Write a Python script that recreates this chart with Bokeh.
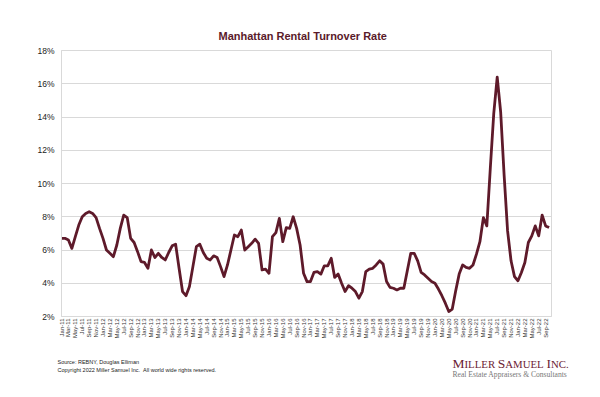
import math
from bokeh.plotting import figure
from bokeh.layouts import column
from bokeh.models import Label, FixedTicker, ColumnDataSource, Range1d, Title
from bokeh.embed import file_html
from bokeh.resources import INLINE

# ---------------- data ----------------
month_names = ["Jan", "Feb", "Mar", "Apr", "May", "Jun",
               "Jul", "Aug", "Sep", "Oct", "Nov", "Dec"]
years = ["11", "12", "13", "14", "15", "16", "17", "18", "19", "20", "21", "22"]
month_labels = [f"{m}-{y}" for y in years for m in month_names][:142]  # Jan-11 .. Oct-22

turnover_rate = [
    6.7, 6.7, 6.6, 6.1, 6.8, 7.5, 8.0, 8.2, 8.3, 8.2, 7.95, 7.3,      # 2011
    6.7, 6.0, 5.8, 5.6, 6.3, 7.3, 8.1, 7.95, 6.7, 6.45, 5.9, 5.3,     # 2012
    5.25, 4.9, 6.0, 5.55, 5.8, 5.55, 5.4, 5.85, 6.25, 6.35, 4.9, 3.5, # 2013
    3.25, 3.8, 5.0, 6.2, 6.35, 5.85, 5.5, 5.4, 5.65, 5.55, 5.0, 4.4,  # 2014
    5.1, 6.0, 6.9, 6.8, 7.2, 6.0, 6.2, 6.4, 6.65, 6.4, 4.8, 4.85,     # 2015
    4.6, 6.8, 7.05, 7.9, 6.5, 7.35, 7.3, 8.0, 7.3, 6.3, 4.6, 4.1,     # 2016
    4.1, 4.65, 4.7, 4.55, 5.05, 5.05, 5.5, 4.35, 4.55, 4.0, 3.5, 3.85,# 2017
    3.7, 3.5, 3.1, 3.5, 4.7, 4.85, 4.9, 5.1, 5.35, 5.15, 4.1, 3.75,   # 2018
    3.7, 3.6, 3.7, 3.7, 4.75, 5.8, 5.8, 5.35, 4.65, 4.5, 4.3, 4.1,    # 2019
    4.0, 3.65, 3.25, 2.8, 2.3, 2.45, 3.55, 4.55, 5.1, 4.95, 4.9, 5.1, # 2020
    5.75, 6.5, 7.95, 7.45, 10.9, 14.2, 16.4, 14.3, 10.5, 7.15, 5.35, 4.4,  # 2021
    4.15, 4.65, 5.25, 6.45, 6.85, 7.45, 6.85, 8.1, 7.45, 7.35,        # 2022
]
month_index = list(range(len(turnover_rate)))

y_ticks = [2, 4, 6, 8, 10, 12, 14, 16, 18]
x_ticks = list(range(0, 141, 2))

title_text = "Manhattan Rental Turnover Rate"
source_text = "Source: REBNY, Douglas Elliman"
copyright_text = "Copyright 2022 Miller Samuel Inc.\u00a0\u00a0All world wide rights reserved."
tagline_text = "Real Estate Appraisers & Consultants"

# ---------------- main figure ----------------
W = 584
H_MAIN, H_FOOT = 350, 31
X_END = 141.7
p = figure(width=W, height=H_MAIN, output_backend="svg", toolbar_location=None,
           x_range=Range1d(0, X_END), y_range=Range1d(2, 18),
           min_border_left=61, min_border_right=33, min_border_top=50,
           min_border_bottom=34)
p.frame_align = False
p.title = Title(text=title_text, align="left", offset=157, standoff=18,
                text_font="Liberation Sans", text_font_style="bold",
                text_font_size="11px", text_color="#5a1a2a")
p.background_fill_color = "white"
p.border_fill_color = "white"
p.outline_line_color = "#d9d9d9"
p.outline_line_width = 1

p.xgrid.visible = False
p.ygrid.grid_line_color = "#d9d9d9"
p.ygrid.ticker = FixedTicker(ticks=y_ticks)

ya = p.yaxis[0]
ya.ticker = FixedTicker(ticks=y_ticks)
ya.major_label_overrides = {t: f"{t}%" for t in y_ticks}
ya.axis_line_color = "#d9d9d9"
ya.major_tick_line_color = None
ya.minor_tick_line_color = None
ya.major_tick_in = 0
ya.major_tick_out = 0
ya.major_label_standoff = 7
ya.major_label_text_font = "Liberation Sans"
ya.major_label_text_font_size = "8.5px"
ya.major_label_text_color = "#222222"

xa = p.xaxis[0]
xa.ticker = FixedTicker(ticks=x_ticks)
xa.major_label_overrides = {t: month_labels[t] for t in x_ticks}
xa.major_label_orientation = math.pi / 2
xa.axis_line_color = "#d9d9d9"
xa.major_tick_line_color = None
xa.minor_tick_line_color = None
xa.major_tick_in = 0
xa.major_tick_out = 0
xa.major_label_standoff = 2
xa.major_label_text_font = "Liberation Sans"
xa.major_label_text_font_size = "6px"
xa.major_label_text_color = "#333333"

src = ColumnDataSource(dict(x=month_index, y=turnover_rate))
p.line("x", "y", source=src, line_color="#5e1a2a", line_width=2.8,
       line_join="round")

# ---------------- footer figure (frame fills the canvas; 1 unit = 1 px) ----------------
f = figure(width=W, height=H_FOOT, output_backend="svg", toolbar_location=None,
           x_range=Range1d(0, W), y_range=Range1d(0, H_FOOT),
           min_border=0, x_axis_type=None, y_axis_type=None)
f.frame_align = False
f.outline_line_color = None
f.background_fill_color = "white"
f.border_fill_color = "white"
f.xgrid.visible = False
f.ygrid.visible = False
PAGE_TOP = H_MAIN


def lab(px, py, text, **kw):
    f.add_layout(Label(x=px, y=H_FOOT - (py - PAGE_TOP), text=text, **kw))


lab(57, 361, source_text, text_align="left", text_baseline="middle",
    text_font="Liberation Sans", text_font_size="5.5px", text_color="#222222")
lab(57, 369, copyright_text, text_align="left", text_baseline="middle",
    text_font="Liberation Sans", text_font_size="5.5px", text_color="#222222")

BIG, SMALL = 13.5, 10.8
SPACE = 250
pieces = [("M", BIG, 889, 0), ("ILLER", SMALL, 2833, SPACE), ("S", BIG, 556, 0),
          ("AMUEL", SMALL, 3555, SPACE), ("I", BIG, 333, 0), ("NC.", SMALL, 1639, 0)]
cx = 452.0
for txt, size, w, gap in pieces:
    lab(cx, 363, txt, text_align="left", text_baseline="alphabetic",
        text_font="Liberation Serif", text_font_size=f"{size}px",
        text_color="#6b2233")
    cx += (w + gap) * size / 1000.0

lab(452, 373.5, tagline_text, text_align="left", text_baseline="alphabetic",
    text_font="Liberation Serif", text_font_size="7.6px", text_color="#777777")

layout = column(p, f, spacing=0)
open("out.html", "w").write(file_html(layout, INLINE))
